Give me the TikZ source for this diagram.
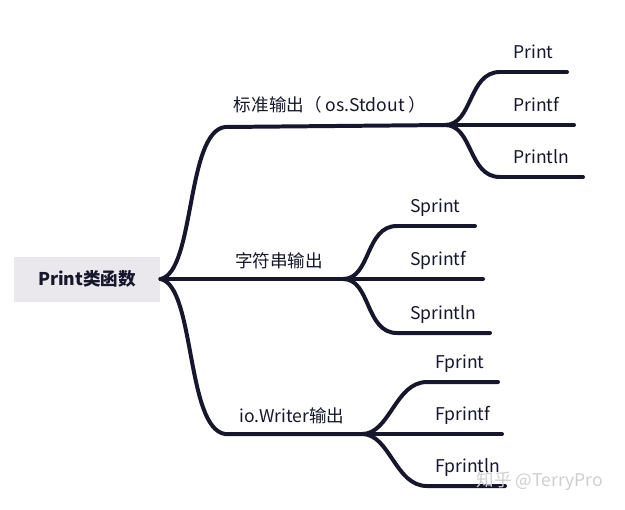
\documentclass[tikz,border=0pt]{standalone}
\usepackage{fontspec}
\setmainfont{Noto Sans CJK SC}
\usetikzlibrary{positioning}
\definecolor{ink}{HTML}{16162C}
\definecolor{rootgray}{HTML}{EAE8EC}
\definecolor{markgray}{HTML}{CFCFD2}

\begin{document}
\begin{tikzpicture}[
  x=0.3mm, y=-0.3mm,
  rootbox/.style={fill=rootgray, minimum width=44mm, minimum height=13.5mm, inner sep=0pt, font=\fontsize{15}{17}\selectfont\bfseries, text=ink},
  lbl/.style={font=\fontsize{15}{17}\selectfont, text=ink, inner sep=0pt},
  leaf/.style={lbl, anchor=base west},
  stroke/.style={draw=ink, line width=3.4pt, line cap=round},
]
\useasboundingbox (0,0) rectangle (625,509);
% root
\node[rootbox] (root) at (87,279) {Print类函数};
% main branches
\coordinate (out1) at (225,127); \coordinate (f1) at (445,125);
\coordinate (f2) at (343,279);
\coordinate (out3) at (225,434); \coordinate (f3) at (362,434);
\draw[stroke] (root.east) .. controls (195,272) and (186,132) .. (out1) -- (f1);
\draw[stroke] (root.east) -- (f2);
\draw[stroke] (root.east) .. controls (195,286) and (186,428) .. (out3) -- (f3);
\node[lbl] (b1) at (330,105) {标准输出（ os.Stdout ）};
\node[lbl] (b2) at (279,261) {字符串输出};
\node[lbl] (b3) at (292,416) {io.Writer输出};
% leaves
\foreach \f/\n/\t/\y/\xs/\xe/\xt in {
  f1/pr1/Print/72/500/567/513, f1/pr2/Printf/125/500/574/513, f1/pr3/Println/177/500/583/513,
  f2/sp1/Sprint/226/397/475/410, f2/sp2/Sprintf/279/397/483/410, f2/sp3/Sprintln/333/397/490/410,
  f3/fp1/Fprint/382/427/498/435, f3/fp2/Fprintf/434/427/502/435, f3/fp3/Fprintln/486/427/505/435} {
  \coordinate (\n-a) at (\xs,\y); \coordinate (\n-b) at (\xe,\y);
  \draw[stroke] (\f) .. controls +(28,0) and +(-32,0) .. (\n-a) -- (\n-b);
  \node[leaf] (\n) at (\xt,\y-14) {\t};
}
% watermark
\node[font=\fontsize{15}{17}\selectfont, text=markgray] (mark) at (540,481) {知乎 @TerryPro};
\end{tikzpicture}
\end{document}
